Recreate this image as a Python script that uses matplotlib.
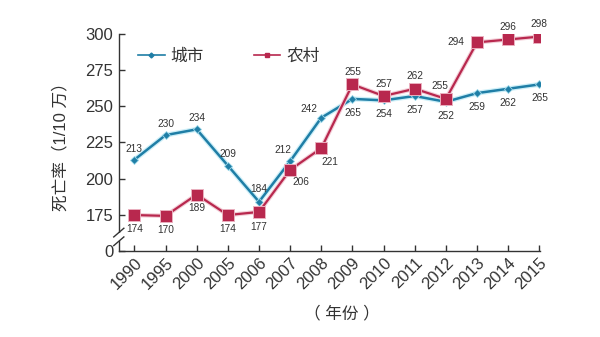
import numpy as np
import matplotlib
matplotlib.use("Agg")
import matplotlib.pyplot as plt
import matplotlib.patheffects as pe
from matplotlib.lines import Line2D

plt.rcParams['font.family'] = ['Liberation Sans', 'Noto Sans CJK SC', 'DejaVu Sans']

years = ['1990', '1995', '2000', '2005', '2006', '2007', '2008',
         '2009', '2010', '2011', '2012', '2013', '2014', '2015']
# plotted positions (as drawn in the reference)
urban = [213, 230, 234, 209, 184, 212, 242, 255, 254, 257, 253, 259, 262, 265]
rural = [174, 170, 189, 174, 177, 206, 221, 265, 257, 262, 255, 294, 296, 298]
# value labels (as printed in the reference)
urban_labels = ['213', '230', '234', '209', '184', '212', '242', '265', '254', '257', '252', '259', '262', '265']
rural_labels = ['174', '170', '189', '174', '177', '206', '221', '255', '257', '262', '255', '294', '296', '298']
yticks = [0, 175, 200, 225, 250, 275, 300]
series_names = ['城市', '农村']

# label placement (offset in points)
urban_off = [(0, 8), (0, 8), (0, 8), (0, 8), (0, 9), (-5, 8), (-9, 6),
             (0, -10), (0, -10), (0, -10), (0, -10), (0, -10), (0, -10), (0, -10)]
rural_off = [(0, -10), (0, -10), (0, -10), (0, -10), (0, -11), (8, -9), (6, -10),
             (0, 9), (0, 9), (0, 9), (-4, 9), (-15, 0), (0, 9), (0, 9)]

BLUE = '#1f7ea6'
RED = '#b8284e'
TXT = '#333333'

fig = plt.figure(figsize=(6.0, 3.37), dpi=100)
ax = fig.add_axes([0.198, 0.255, 0.702, 0.645])

def fwd(y):
    y = np.asarray(y, dtype=float)
    return np.where(y >= 175, y, 150 + y * 25.0 / 175.0)

def inv(t):
    t = np.asarray(t, dtype=float)
    return np.where(t >= 175, t, (t - 150) * 175.0 / 25.0)

ax.set_yscale('function', functions=(fwd, inv))

x = np.arange(len(years))
ax.plot(x, urban, color=BLUE, lw=1.8,
        path_effects=[pe.Stroke(linewidth=3.6, foreground='#cdeff8'), pe.Normal()], zorder=3)
ax.plot(x, urban, ls='none', marker='D', ms=4.5, mfc=BLUE, mec='#9fd9ea', mew=0.6, zorder=3.5)
ax.plot(x, rural, color=RED, lw=1.6,
        path_effects=[pe.Stroke(linewidth=3.2, foreground='#f3cfd8'), pe.Normal()], zorder=4)
ax.plot(x, rural, ls='none', marker='s', ms=8, mfc=RED, mec='#eab0bf', mew=0.7, zorder=4.5)

for xi, v, s, o in zip(x, urban, urban_labels, urban_off):
    ax.annotate(s, (xi, v), xytext=o, textcoords='offset points', ha='center', va='center',
                fontsize=7.3, color=TXT, zorder=5)
for xi, v, s, o in zip(x, rural, rural_labels, rural_off):
    ax.annotate(s, (xi, v), xytext=o, textcoords='offset points', ha='center', va='center',
                fontsize=7.3, color=TXT, zorder=5)

ax.set_xlim(-0.5, 13.02)
ax.set_ylim(0, 300)
ax.set_yticks(yticks)
ax.set_yticklabels([str(t) for t in yticks], fontsize=12, color=TXT)
ax.set_xticks(x)
ax.set_xticklabels(years, rotation=45, ha='right', va='top', rotation_mode='anchor',
                   fontsize=12, color=TXT)
ax.tick_params(axis='both', direction='in', length=4, width=1, color='#333333')
ax.tick_params(axis='y', pad=4)
ax.tick_params(axis='x', pad=3)
for side in ('top', 'right'):
    ax.spines[side].set_visible(False)
for side in ('left', 'bottom'):
    ax.spines[side].set_color('#333333')
    ax.spines[side].set_linewidth(1.0)

# axis break marks on the y-axis
ax.add_patch(plt.Rectangle((-0.02, 0.045), 0.04, 0.04, transform=ax.transAxes,
                           facecolor='white', edgecolor='none', clip_on=False, zorder=6))
for yy in (0.045, 0.085):
    ax.add_line(Line2D([-0.012, 0.012], [yy - 0.02, yy + 0.02], transform=ax.transAxes,
                       color='#333333', lw=1, clip_on=False, zorder=7))

ax.set_ylabel('死亡率（1/10 万）', fontsize=12, color=TXT, labelpad=12)
ax.set_xlabel('（ 年份 ）', fontsize=12, color=TXT)
ax.xaxis.set_label_coords(0.53, -0.25)

handles = [Line2D([], [], color=BLUE, lw=1.2, marker='D', ms=2.5),
           Line2D([], [], color=RED, lw=1.2, marker='s', ms=3)]
ax.legend(handles, series_names, loc='upper left', bbox_to_anchor=(0.01, 1.0), ncol=2,
          frameon=False, fontsize=12, handlelength=1.6, handletextpad=0.35, columnspacing=3.0,
          labelcolor=TXT)

fig.savefig('out.png', dpi=100, facecolor='white')
